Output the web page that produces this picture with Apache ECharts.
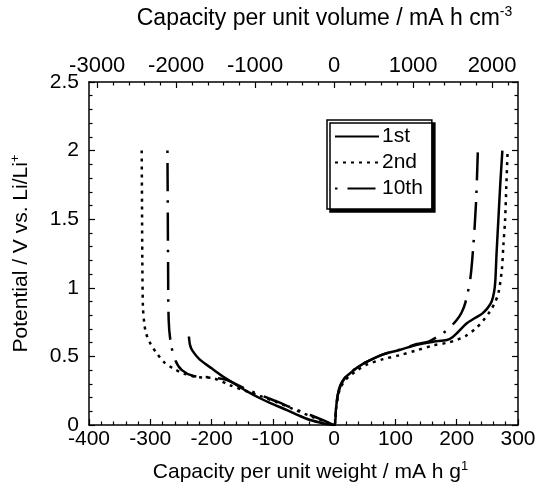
<!DOCTYPE html>
<html>
<head>
<meta charset="utf-8">
<script src="https://cdn.jsdelivr.net/npm/echarts@6/dist/echarts.min.js"></script>
<style>
html,body{margin:0;padding:0;background:#fff;}
#chart{width:539px;height:491px;}
</style>
</head>
<body>
<div id="chart"></div>
<script>
// ---- data (capacity per unit weight mA h g^-1, potential V) ----
var seriesNames = ['1st', '2nd', '10th'];
var first = [[-237,0.645],[-235,0.58],[-231,0.54],[-220,0.48],[-200,0.413],[-182,0.355],[-164,0.304],[-142,0.245],[-121,0.195],[-99,0.15],[-77,0.109],[-58,0.07],[-39,0.036],[-20,0.015],[0,0],[3,0.12],[6,0.22],[10,0.28],[17,0.34],[26,0.377],[38,0.42],[53,0.46],[80,0.515],[108,0.548],[135,0.585],[162,0.607],[184,0.62],[193,0.64],[200,0.668],[216,0.74],[230,0.78],[241,0.81],[250,0.85],[257,0.90],[261,0.97],[263,1.05],[265,1.25],[268,1.5],[271,1.75],[274.5,2.0]];
var second = [[-314,2.0],[-313.5,1.6],[-313,1.2],[-312,0.86],[-310,0.75],[-307,0.67],[-300,0.595],[-289,0.52],[-278,0.46],[-262,0.41],[-245,0.375],[-224,0.35],[-197,0.34],[-170,0.29],[-145,0.25],[-121,0.212],[-93,0.165],[-66,0.115],[-39,0.065],[-18,0.03],[0,0],[3,0.11],[6,0.2],[10,0.27],[17,0.32],[26,0.36],[38,0.40],[53,0.44],[80,0.48],[108,0.51],[135,0.545],[162,0.58],[185,0.60],[200,0.62],[215,0.65],[230,0.70],[243,0.76],[254.5,0.83],[262,0.89],[268,0.96],[273.6,1.13],[276,1.3],[279,1.5],[281,1.75],[283,1.99]];
var tenth = [[-272,2.0],[-271.5,1.6],[-271,1.2],[-270,0.765],[-266.5,0.595],[-259,0.47],[-248.5,0.40],[-229.5,0.357],[-202,0.347],[-175,0.328],[-148,0.27],[-121,0.219],[-93,0.17],[-66,0.12],[-39,0.073],[-18,0.035],[0,0],[3,0.12],[6,0.22],[10,0.29],[17,0.34],[26,0.38],[38,0.42],[53,0.46],[80,0.515],[108,0.55],[135,0.59],[155,0.61],[167.5,0.64],[184,0.69],[200,0.765],[208,0.82],[214,0.89],[222,1.06],[227,1.30],[231.5,1.62],[234.5,2.0]];

// ---- axes ----
var weightMin = -400, weightMax = 300, weightStep = 100;
var potentialMin = 0, potentialMax = 2.5, potentialStep = 0.5;
var volPerWeight = 7.76; // mA h cm^-3 per mA h g^-1
var volTicks = [-3000, -2000, -1000, 0, 1000, 2000];
var volMinorTicks = [-2800,-2600,-2400,-2200,-1800,-1600,-1400,-1200,-800,-600,-400,-200,200,400,600,800,1200,1400,1600,1800,2200];

var FONT = '"Liberation Sans", Arial, Helvetica, sans-serif';
var lineCol = '#000';

var chart = echarts.init(document.getElementById('chart'), null, {renderer: 'canvas'});

function baseAxisLine() { return {show: true, onZero: false, lineStyle: {color: lineCol, width: 1.5}}; }
function plain(v) { return String(Math.round(v * 10) / 10); }
function richName(size, padLeft) {
  return {color: '#000', fontFamily: FONT, padding: [0, 0, 0, padLeft || 0],
    rich: {a: {fontSize: size, lineHeight: size + 4, fontFamily: FONT, color: '#000'},
           s: {fontSize: Math.round(size * 0.62), lineHeight: Math.round(size * 0.7), verticalAlign: 'top', fontFamily: FONT, color: '#000'}}};
}

var option = {
  backgroundColor: '#fff',
  animation: false,
  grid: {left: 89, right: 21, top: 82, bottom: 66},
  legend: {
    data: seriesNames,
    orient: 'vertical',
    left: 327, top: 120,
    padding: [6, 9, 10, 7],
    itemWidth: 44, itemHeight: 14, itemGap: 5,
    backgroundColor: '#fff',
    borderColor: '#000', borderWidth: 1.5, borderRadius: 0,
    shadowColor: '#000', shadowBlur: 0, shadowOffsetX: 3, shadowOffsetY: 3,
    itemStyle: {opacity: 0},
    textStyle: {color: '#000', fontSize: 21, lineHeight: 20, fontFamily: FONT, padding: [0,0,0,-2]},
    selectedMode: false
  },
  xAxis: [
    {
      type: 'value', position: 'bottom', min: weightMin, max: weightMax, interval: weightStep,
      axisLine: baseAxisLine(),
      axisTick: {show: true, inside: true, length: 6, lineStyle: {color: lineCol, width: 1.2}},
      minorTick: {show: true, splitNumber: 5, length: 3.5, lineStyle: {color: lineCol, width: 1.2}},
      splitLine: {show: false},
      axisLabel: {color: '#000', fontSize: 21, fontFamily: FONT, margin: 4, formatter: plain},
      name: '{a|Capacity per unit weight / mA h g}{s|1}',
      nameLocation: 'middle', nameGap: 35,
      nameTextStyle: richName(21, 14)
    },
    {
      type: 'value', position: 'top', min: weightMin * volPerWeight, max: weightMax * volPerWeight,
      axisLine: baseAxisLine(),
      axisTick: {show: true, inside: true, length: 6, customValues: volTicks, lineStyle: {color: lineCol, width: 1.2}},
      splitLine: {show: false},
      axisLabel: {color: '#000', fontSize: 22, fontFamily: FONT, margin: 5, customValues: volTicks, formatter: plain},
      name: '{a|Capacity per unit volume / mA h cm}{s|-3}',
      nameLocation: 'middle', nameGap: 50,
      nameTextStyle: richName(23, 42)
    },
    {
      type: 'value', position: 'top', min: weightMin * volPerWeight, max: weightMax * volPerWeight,
      axisLine: {show: false, onZero: false},
      axisTick: {show: true, inside: true, length: 3.5, customValues: volMinorTicks, lineStyle: {color: lineCol, width: 1.2}},
      splitLine: {show: false},
      axisLabel: {show: false}
    }
  ],
  yAxis: [
    {
      type: 'value', position: 'left', min: potentialMin, max: potentialMax, interval: potentialStep,
      axisLine: baseAxisLine(),
      axisTick: {show: true, inside: true, length: 6, lineStyle: {color: lineCol, width: 1.2}},
      minorTick: {show: true, splitNumber: 5, length: 3.5, lineStyle: {color: lineCol, width: 1.2}},
      splitLine: {show: false},
      axisLabel: {color: '#000', fontSize: 21, fontFamily: FONT, margin: 10, formatter: plain},
      name: '{a|Potential / V vs. Li/Li}{s|+}',
      nameLocation: 'middle', nameGap: 55, nameRotate: 90,
      nameTextStyle: richName(21, 0)
    },
    {
      type: 'value', position: 'right', min: potentialMin, max: potentialMax, interval: potentialStep,
      axisLine: baseAxisLine(),
      axisTick: {show: true, inside: true, length: 6, lineStyle: {color: lineCol, width: 1.2}},
      minorTick: {show: true, splitNumber: 5, length: 3.5, lineStyle: {color: lineCol, width: 1.2}},
      splitLine: {show: false},
      axisLabel: {show: false}
    }
  ],
  series: [
    {name: seriesNames[0], type: 'line', data: first, xAxisIndex: 0, yAxisIndex: 0, smooth: 0.3,
     symbol: 'none', lineStyle: {color: '#000', width: 2.5, type: 'solid'}, itemStyle: {color: '#000'}},
    {name: seriesNames[1], type: 'line', data: second, xAxisIndex: 0, yAxisIndex: 0, smooth: 0.3,
     symbol: 'none', lineStyle: {color: '#000', width: 2.5, type: [3, 5]}, itemStyle: {color: '#000'}},
    {name: seriesNames[2], type: 'line', data: tenth, xAxisIndex: 0, yAxisIndex: 0, smooth: 0.3,
     symbol: 'none', lineStyle: {color: '#000', width: 2.5, type: [2.5, 10, 28, 9]}, itemStyle: {color: '#000'}}
  ]
};
chart.setOption(option);
</script>
</body>
</html>
